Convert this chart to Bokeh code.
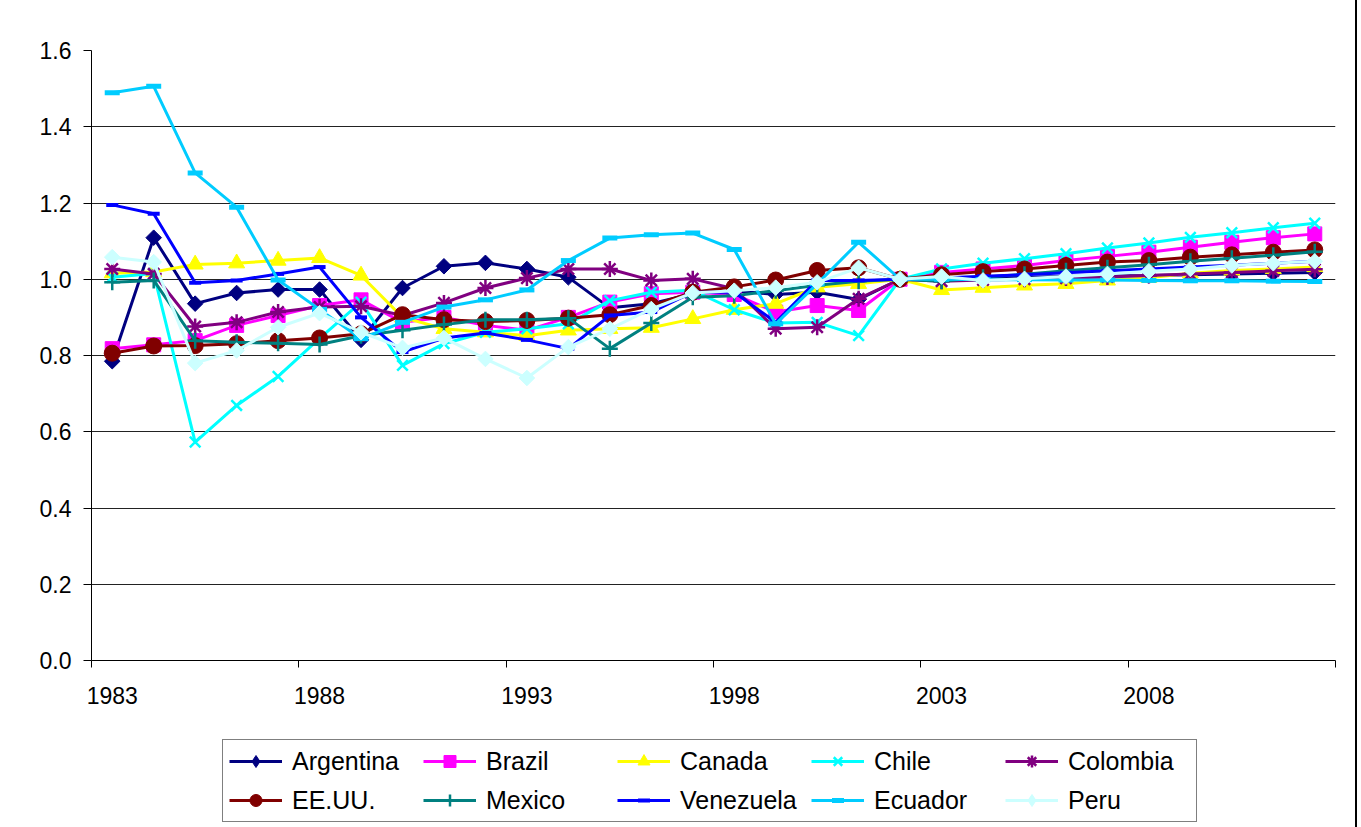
import math
from bokeh.plotting import figure
from bokeh.layouts import column
from bokeh.models import FixedTicker, NumeralTickFormatter, Legend, LegendItem
from bokeh.embed import file_html
from bokeh.resources import INLINE

years = list(range(1983, 2013))

argentina = [0.785, 1.109, 0.936, 0.964, 0.973, 0.973, 0.841, 0.977, 1.034, 1.043,
             1.027, 1.005, 0.925, 0.936, 0.962, 0.970, 0.960, 0.966, 0.947, 1.000,
             1.001, 1.003, 1.005, 1.007, 1.009, 1.010, 1.012, 1.014, 1.016, 1.018]
brazil = [0.818, 0.828, 0.839, 0.879, 0.905, 0.931, 0.946, 0.887, 0.900, 0.879,
          0.866, 0.900, 0.940, 0.962, 0.966, 0.960, 0.914, 0.931, 0.918, 1.000,
          1.018, 1.027, 1.036, 1.049, 1.060, 1.071, 1.084, 1.097, 1.109, 1.119]
canada = [1.016, 1.019, 1.039, 1.042, 1.049, 1.056, 1.010, 0.900, 0.870, 0.861,
          0.852, 0.866, 0.870, 0.873, 0.896, 0.920, 0.936, 0.979, 0.988, 1.000,
          0.972, 0.978, 0.984, 0.988, 0.997, 1.004, 1.016, 1.023, 1.027, 1.032]
chile = [1.005, 1.015, 0.573, 0.669, 0.745, 0.845, 0.940, 0.774, 0.831, 0.861,
         0.870, 0.883, 0.944, 0.966, 0.971, 0.920, 0.885, 0.887, 0.852, 1.000,
         1.027, 1.042, 1.054, 1.067, 1.082, 1.095, 1.110, 1.122, 1.135, 1.147]
colombia = [1.027, 1.014, 0.876, 0.887, 0.914, 0.927, 0.929, 0.905, 0.938, 0.977,
            1.003, 1.027, 1.027, 0.997, 1.001, 0.975, 0.870, 0.874, 0.949, 1.000,
            0.995, 0.998, 1.000, 1.003, 1.006, 1.010, 1.014, 1.018, 1.022, 1.026]
eeuu = [0.806, 0.825, 0.826, 0.831, 0.839, 0.846, 0.857, 0.907, 0.894, 0.889,
        0.892, 0.898, 0.907, 0.931, 0.966, 0.980, 0.998, 1.023, 1.030, 1.000,
        1.012, 1.020, 1.027, 1.036, 1.045, 1.049, 1.058, 1.064, 1.071, 1.077]
mexico = [0.992, 0.997, 0.839, 0.835, 0.832, 0.829, 0.852, 0.866, 0.881, 0.894,
          0.894, 0.898, 0.818, 0.885, 0.953, 0.957, 0.970, 0.984, 0.995, 1.000,
          0.995, 1.005, 1.013, 1.022, 1.030, 1.038, 1.047, 1.055, 1.063, 1.072]
venezuela = [1.195, 1.172, 0.991, 0.997, 1.014, 1.032, 0.900, 0.809, 0.846, 0.859,
             0.841, 0.818, 0.905, 0.914, 0.966, 0.966, 0.887, 0.997, 0.997, 1.000,
             1.003, 1.008, 1.012, 1.017, 1.022, 1.027, 1.032, 1.037, 1.042, 1.047]
ecuador = [1.489, 1.506, 1.279, 1.189, 0.998, 0.921, 0.844, 0.887, 0.927, 0.946,
           0.972, 1.049, 1.108, 1.117, 1.121, 1.078, 0.883, 0.988, 1.097, 1.000,
           1.000, 0.999, 0.999, 0.998, 0.998, 0.997, 0.996, 0.996, 0.995, 0.994]
peru = [1.058, 1.045, 0.780, 0.813, 0.874, 0.911, 0.861, 0.820, 0.846, 0.791,
        0.741, 0.822, 0.870, 0.922, 0.964, 0.970, 0.978, 0.992, 1.030, 1.000,
        1.007, 0.997, 1.001, 1.007, 1.014, 1.021, 1.027, 1.036, 1.042, 1.047]

x_tick_labels = [1983, 1988, 1993, 1998, 2003, 2008]
x_boundaries = [1982.5, 1987.5, 1992.5, 1997.5, 2002.5, 2007.5, 2012.5]
y_ticks = [0.0, 0.2, 0.4, 0.6, 0.8, 1.0, 1.2, 1.4, 1.6]

# name, values, color, marker, size, marker line width, fill, angle, legend marker
series = [
    ("Argentina", argentina, "#000080", "square", 11, 1, "#000080", math.pi / 4, "diamond"),
    ("Brazil", brazil, "#FF00FF", "square", 14, 1, "#FF00FF", 0, "square"),
    ("Canada", canada, "#FFFF00", "triangle", 16, 1, "#FFFF00", 0, "triangle"),
    ("Chile", chile, "#00FFFF", "x", 15, 2.5, None, 0, "x"),
    ("Colombia", colombia, "#800080", "asterisk", 16, 2.5, None, 0, "asterisk"),
    ("EE.UU.", eeuu, "#800000", "circle", 16, 1, "#800000", 0, "circle"),
    ("Mexico", mexico, "#008080", "cross", 16, 2.5, None, 0, "cross"),
    ("Venezuela", venezuela, "#0000FF", "dash", 12, 4, None, 0, "dash"),
    ("Ecuador", ecuador, "#00CCFF", "dash", 15, 5, None, 0, "dash"),
    ("Peru", peru, "#CCFFFF", "square", 11, 1, "#CCFFFF", math.pi / 4, "diamond"),
]

FONT = "Liberation Sans"
W = 1357
MAIN_H = 715
LEG_H = 827 - MAIN_H

p = figure(width=W, height=MAIN_H, output_backend="svg", toolbar_location=None,
           x_range=(1982.5, 2012.5), y_range=(0, 1.6),
           min_border_left=91, min_border_right=22, min_border_top=50,
           min_border_bottom=MAIN_H - 660)
p.styles = {"border-right": "2px solid black"}
p.outline_line_color = None
p.background_fill_color = "white"
p.border_fill_color = "white"

# legend-only figure below the chart (same series, drawn outside its view)
pl = figure(width=W, height=LEG_H, output_backend="svg", toolbar_location=None,
            x_range=(1982.5, 2012.5), y_range=(5, 6),
            min_border_left=0, min_border_right=0, min_border_top=0,
            min_border_bottom=0)
pl.styles = {"border-right": "2px solid black"}
pl.outline_line_color = None
pl.axis.visible = False
pl.grid.visible = False
pl.background_fill_color = "white"
pl.border_fill_color = "white"

items = []
for name, vals, color, marker, size, lw, fill, ang, lmarker in series:
    p.line(years, vals, line_color=color, line_width=3)
    p.scatter(years, vals, marker=marker, size=size, line_color=color,
              line_width=lw, fill_color=fill if fill else color, angle=ang)
    r1 = pl.line(years, vals, line_color=color, line_width=3)
    r2 = pl.scatter(years, vals, marker=lmarker, size=size, line_color=color,
                    line_width=lw, fill_color=fill if fill else color)
    items.append(LegendItem(label=name, renderers=[r1, r2]))

# axes
p.xaxis.ticker = FixedTicker(ticks=x_tick_labels, minor_ticks=x_boundaries)
p.xaxis.major_tick_out = 0
p.xaxis.major_tick_in = 0
p.xaxis.minor_tick_out = 7
p.xaxis.minor_tick_in = 0
p.xaxis.minor_tick_line_color = "black"
p.xaxis.major_label_standoff = 19
p.xaxis.axis_line_color = "black"
p.xgrid.visible = False

p.yaxis.ticker = FixedTicker(ticks=y_ticks)
p.yaxis.formatter = NumeralTickFormatter(format="0.0")
p.yaxis.major_tick_out = 8
p.yaxis.major_tick_in = 0
p.yaxis.minor_tick_line_color = None
p.yaxis.major_label_standoff = 12
p.yaxis.axis_line_color = "black"
p.ygrid.grid_line_color = "#222222"
p.ygrid.grid_line_width = 1

for ax in (p.xaxis, p.yaxis):
    ax.major_label_text_font = FONT
    ax.major_label_text_font_size = "23px"
    ax.major_label_text_color = "black"
    ax.major_tick_line_color = "black"

legend = Legend(items=items, location=(222 - 91, 827 - 822), orientation="horizontal",
                ncols=5, glyph_width=53, glyph_height=30, label_height=30,
                label_width=122, label_standoff=10, spacing=9, padding=6,
                margin=0, border_line_color="black", border_line_width=1,
                background_fill_color="white", background_fill_alpha=1,
                label_text_font=FONT, label_text_font_size="25px",
                label_text_color="black")
pl.add_layout(legend)

layout = column(p, pl, spacing=0)
open("out.html", "w").write(file_html(layout, INLINE))
